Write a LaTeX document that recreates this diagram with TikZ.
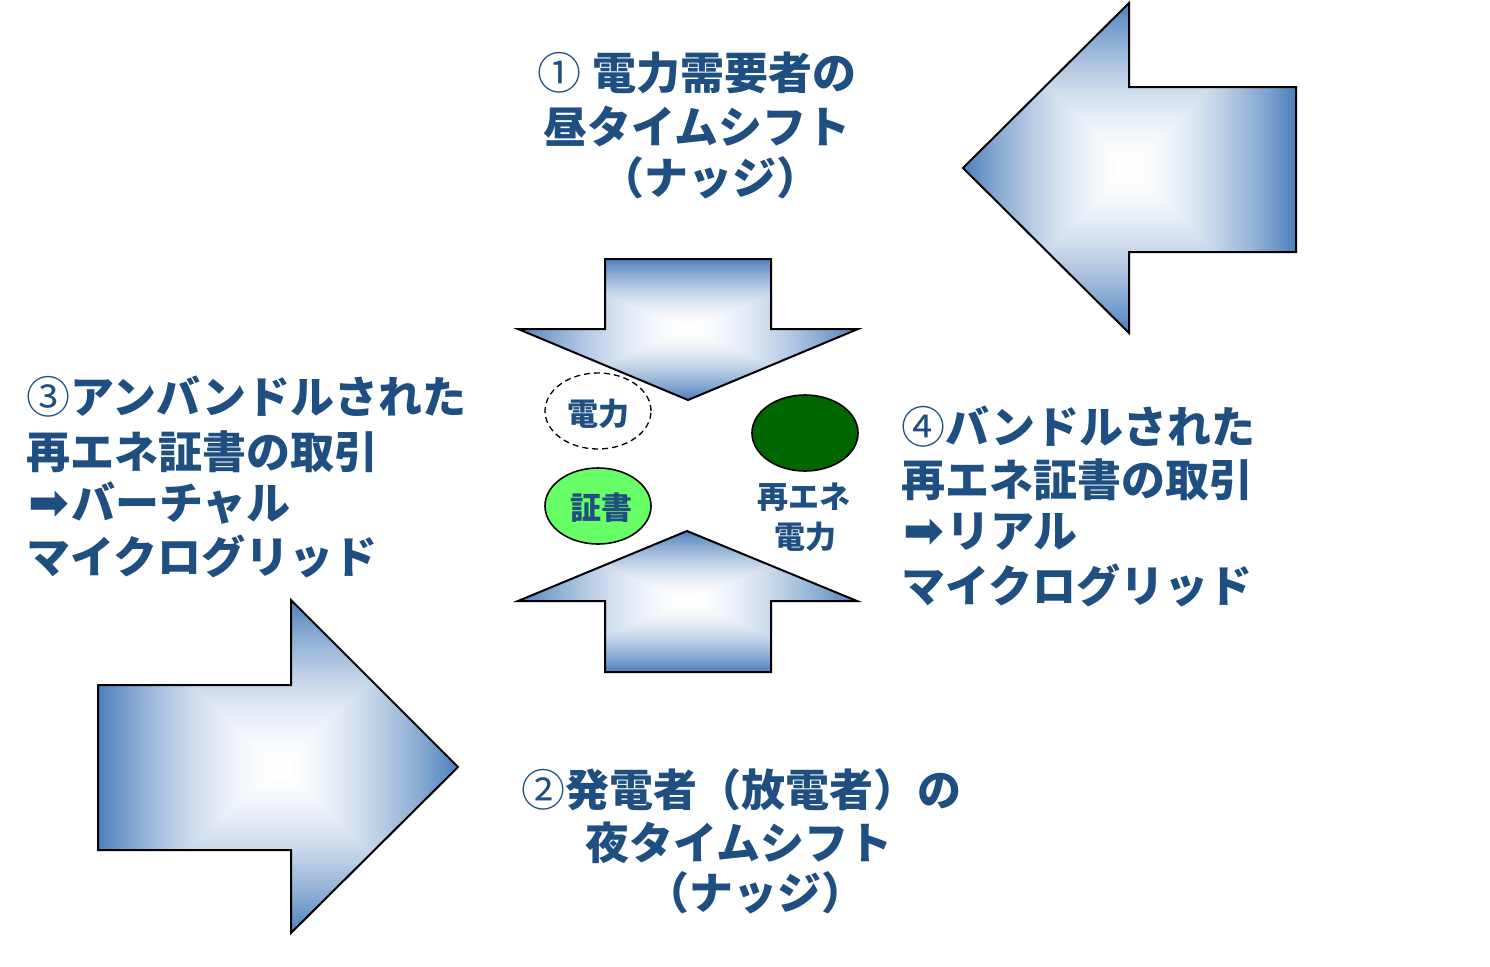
\documentclass[tikz,border=0pt]{standalone}
\usepackage{fontspec}
\usetikzlibrary{shapes.geometric}
\newfontfamily\jp{Noto Sans CJK JP}
\newfontfamily\dv{DejaVu Sans}
\definecolor{arrowblue}{RGB}{79,129,189}
\definecolor{txtblue}{RGB}{31,78,128}
\definecolor{certgreen}{RGB}{102,255,102}
\definecolor{regreen}{RGB}{0,102,0}
\newcommand{\gradarrow}[5]{%
  \begin{scope}
    \clip #1;
    \foreach \i in {0,...,60}{
      \pgfmathsetmacro\tt{1-\i/60}
      \pgfmathsetmacro\pp{100*(\tt^1.7)}
      \fill[arrowblue!\pp!white] ({#2-#4*\tt},{#3-#5*\tt}) rectangle ({#2+#4*\tt},{#3+#5*\tt});
    }
  \end{scope}
  \draw[arrowline] #1;
}
\begin{document}
\begin{tikzpicture}[x=1pt,y=-1pt,
  arrowline/.style={black,line width=2pt,line join=miter},
  bigtxt/.style={font=\jp\bfseries\fontsize{44}{53}\selectfont,text=txtblue,inner sep=0pt},
  smalltxt/.style={font=\jp\bfseries\fontsize{31}{40}\selectfont,text=txtblue,inner sep=0pt},
  ell/.style={ellipse,draw=black,line width=1.6pt,minimum width=106pt,minimum height=76pt,inner sep=0pt},
  arrowglyph/.style={font=\dv\bfseries\fontsize{49}{53}\selectfont}]
\useasboundingbox (0,0) rectangle (1490,966);
% big arrows
\gradarrow{(963,168) -- (1129,3) -- (1129,87) -- (1296,87) -- (1296,252) -- (1129,252) -- (1129,333) -- cycle}{1129.5}{168}{166.5}{165}
\gradarrow{(98,685) -- (291,685) -- (291,600) -- (458,767) -- (291,933) -- (291,850) -- (98,850) -- cycle}{278}{766.5}{180}{166.5}
\gradarrow{(605,259) -- (771,259) -- (771,329) -- (858,329) -- (688,400) -- (518,329) -- (605,329) -- cycle}{688}{329.5}{170}{70.5}
\gradarrow{(687,531) -- (857,601) -- (771,601) -- (771,672) -- (605,672) -- (605,601) -- (518,601) -- cycle}{687.5}{601.5}{169.5}{70.5}
% ellipses
\node[ellipse,draw=black,dash pattern=on 6pt off 4pt,line width=1.3pt,minimum width=106pt,minimum height=76pt] (power) at (598,411) {};
\node[smalltxt] (powertxt) at (598,414) {電力};
\node[ell,fill=certgreen] (cert) at (598,506) {};
\node[smalltxt] (certtxt) at (601,508) {証書};
\node[ell,fill=regreen] (re) at (805,433) {};
\node[smalltxt] (retxt1) at (804,497) {再エネ};
\node[smalltxt] (retxt2) at (805,537) {電力};
% text 1
\node[bigtxt] (t1a) at (697,73) {{\mdseries ①} 電力需要者の};
\node[bigtxt] (t1b) at (697,127) {昼タイムシフト};
\node[bigtxt] (t1c) at (710,178) {（ナッジ）};
% text 2
\node[bigtxt] (t2a) at (741,790) {{\mdseries ②}発電者（放電者）の};
\node[bigtxt] (t2b) at (739,843) {夜タイムシフト};
\node[bigtxt] (t2c) at (755,893) {（ナッジ）};
% text 3
\node[bigtxt,anchor=west] (t3a) at (26,397) {{\mdseries ③}アンバンドルされた};
\node[bigtxt,anchor=west] (t3b) at (26,452) {再エネ証書の取引};
\node[bigtxt,anchor=west] (t3c) at (28,503) {{\dv\bfseries\fontsize{49}{53}\selectfont ➡}\hspace{2pt}バーチャル};
\node[bigtxt,anchor=west] (t3d) at (26,556) {マイクログリッド};
% text 4
\node[bigtxt,anchor=west] (t4a) at (901,427) {{\mdseries ④}バンドルされた};
\node[bigtxt,anchor=west] (t4b) at (901,480) {再エネ証書の取引};
\node[bigtxt,anchor=west] (t4c) at (903,532) {{\dv\bfseries\fontsize{49}{53}\selectfont ➡}\hspace{2pt}リアル};
\node[bigtxt,anchor=west] (t4d) at (901,585) {マイクログリッド};
\end{tikzpicture}
\end{document}
